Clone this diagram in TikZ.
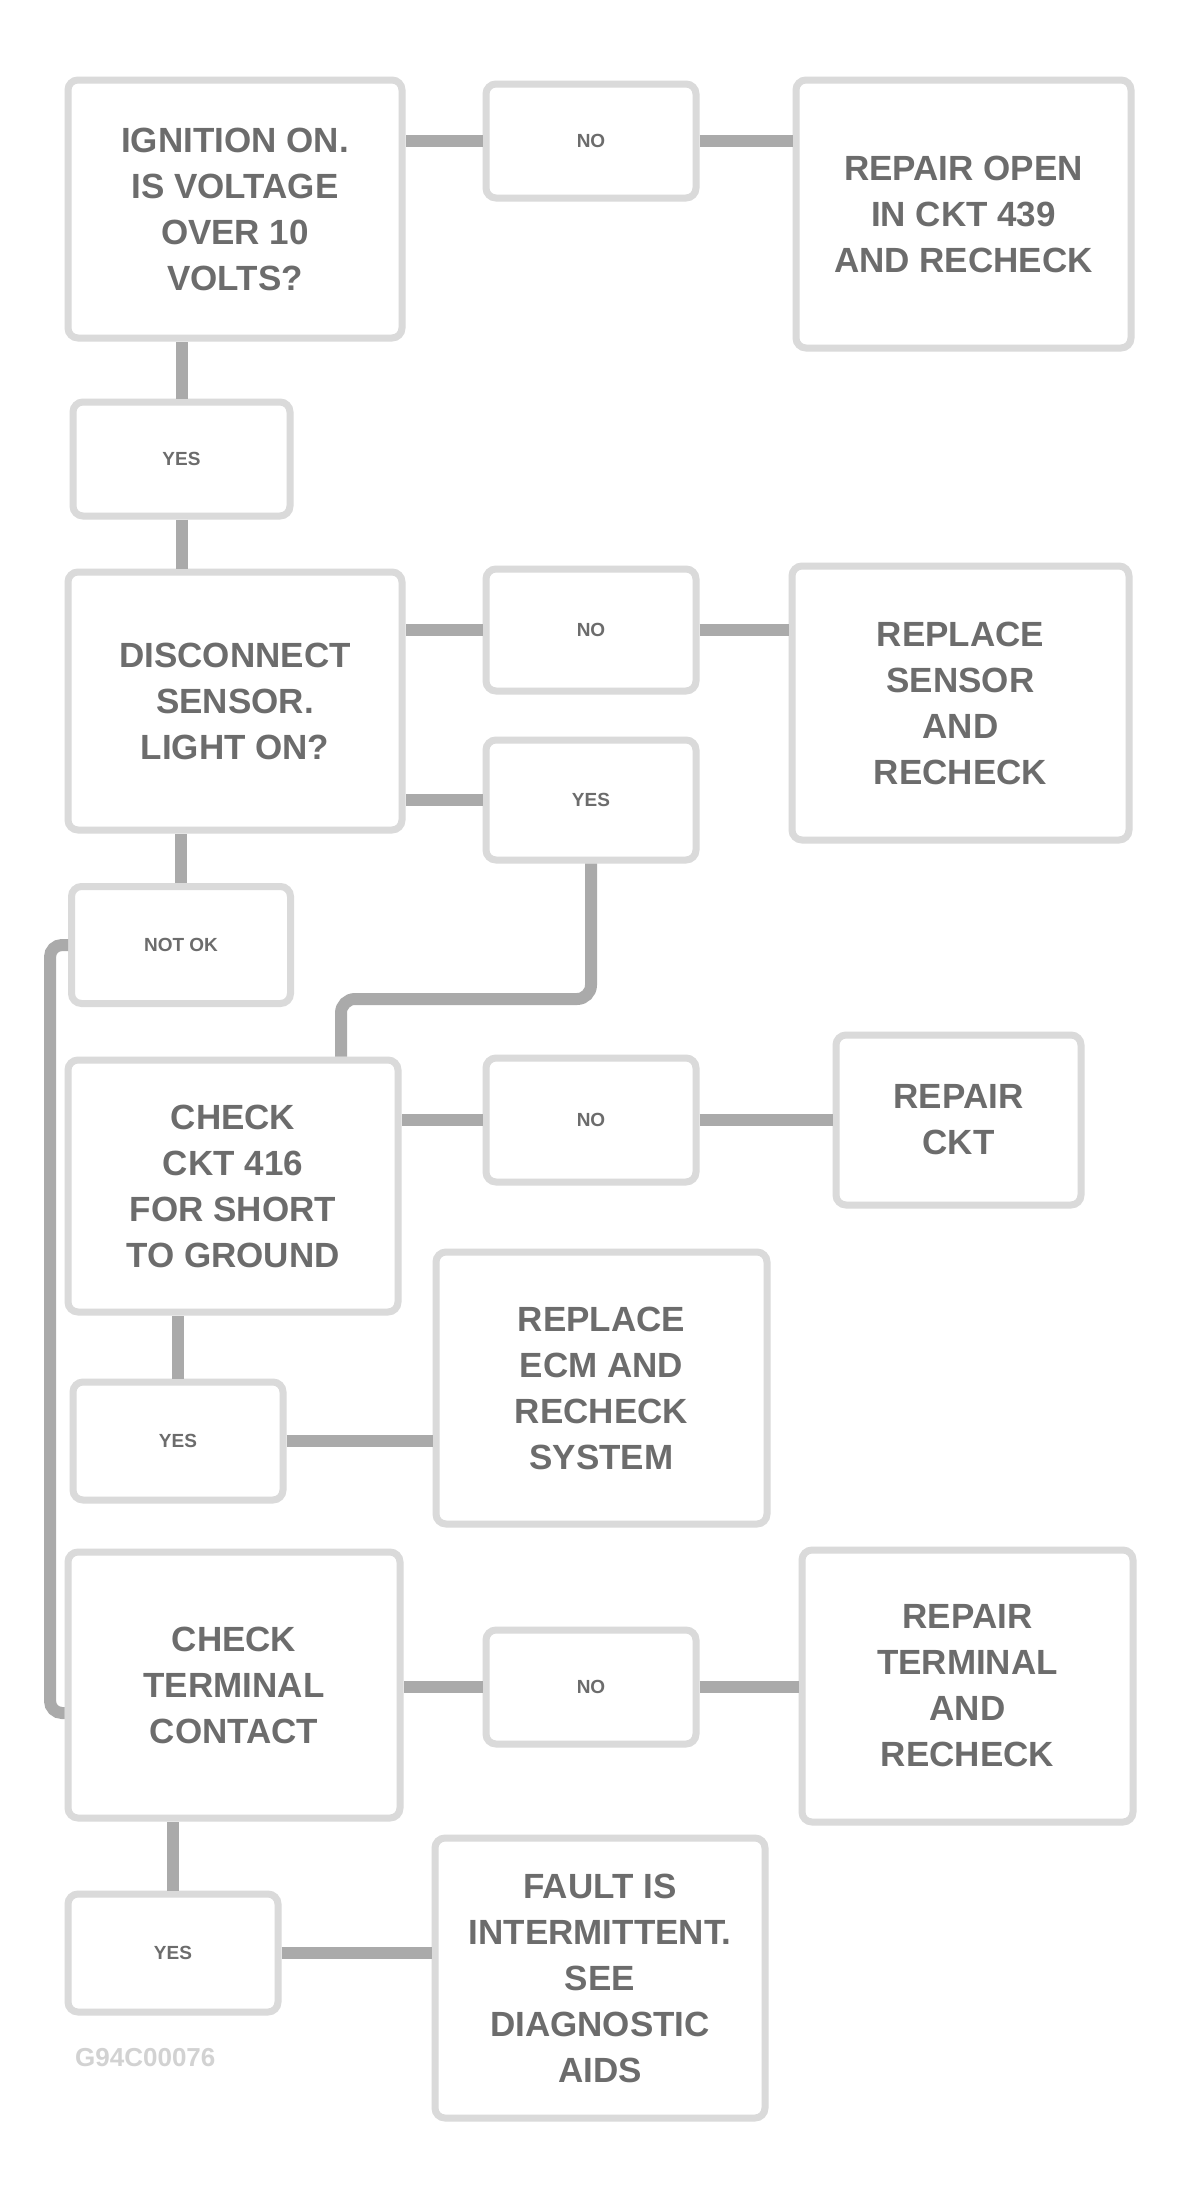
\documentclass[tikz,border=0pt]{standalone}
\usepackage{fontspec}
\setmainfont{Liberation Sans}
\definecolor{boxline}{HTML}{DADADA}
\definecolor{connline}{HTML}{AAAAAA}
\definecolor{txt}{HTML}{6C6C6C}
\definecolor{captxt}{HTML}{D2D2D2}
\begin{document}
\begin{tikzpicture}[x=1pt,y=-1pt,
  box/.style={draw=boxline, line width=7pt, rounded corners=10pt, fill=white,
    inner sep=0pt, align=center, text=txt, font=\fontsize{35}{46}\selectfont\bfseries},
  ans/.style={box, font=\fontsize{19}{23}\selectfont\bfseries},
  conn/.style={draw=connline, line width=12pt},
  caption/.style={text=captxt, font=\fontsize{26}{30}\selectfont\bfseries, inner sep=0pt}]
\useasboundingbox (0,0) rectangle (1176,2192);
\fill[white] (0,0) rectangle (1176,2192);
% nodes
\node[box, minimum width=334pt, minimum height=258pt] (A) at (235,209) {IGNITION ON.\\IS VOLTAGE\\OVER 10\\VOLTS?};
\node[ans, minimum width=210pt, minimum height=114pt] (B) at (591,141) {NO};
\node[box, minimum width=335pt, minimum height=268pt] (C) at (963.5,214) {REPAIR OPEN\\IN CKT 439\\AND RECHECK};
\node[ans, minimum width=217pt, minimum height=114pt] (D) at (181.5,459) {YES};
\node[box, minimum width=334pt, minimum height=258pt] (E) at (235,701) {DISCONNECT\\SENSOR.\\LIGHT ON?};
\node[ans, minimum width=210pt, minimum height=122pt] (F) at (591,630) {NO};
\node[box, minimum width=337pt, minimum height=274pt] (G) at (960.5,703) {REPLACE\\SENSOR\\AND\\RECHECK};
\node[ans, minimum width=210pt, minimum height=120pt] (H) at (591,800) {YES};
\node[ans, minimum width=219pt, minimum height=117pt] (I) at (181,945) {NOT OK};
\node[box, minimum width=330pt, minimum height=252pt] (J) at (233,1186) {CHECK\\CKT 416\\FOR SHORT\\TO GROUND};
\node[ans, minimum width=210pt, minimum height=124pt] (K) at (591,1120) {NO};
\node[box, minimum width=245pt, minimum height=170pt] (L) at (958.5,1120) {REPAIR\\CKT};
\node[ans, minimum width=210pt, minimum height=118pt] (M) at (178,1441) {YES};
\node[box, minimum width=331pt, minimum height=272pt] (N) at (601.5,1388) {REPLACE\\ECM AND\\RECHECK\\SYSTEM};
\node[box, minimum width=332pt, minimum height=266pt] (O) at (234,1685) {CHECK\\TERMINAL\\CONTACT};
\node[ans, minimum width=210pt, minimum height=114pt] (P) at (591,1687) {NO};
\node[box, minimum width=331pt, minimum height=272pt] (Q) at (967.5,1686) {REPAIR\\TERMINAL\\AND\\RECHECK};
\node[ans, minimum width=210pt, minimum height=118pt] (R) at (173,1953) {YES};
\node[box, minimum width=330pt, minimum height=280pt] (S) at (600,1978) {FAULT IS\\INTERMITTENT.\\SEE\\DIAGNOSTIC\\AIDS};
\node[caption, anchor=west] (cap) at (75,2058) {G94C00076};
% connectors
\draw[conn] (B.west) -- (B.west -| A.east);
\draw[conn] (B.east) -- (B.east -| C.west);
\draw[conn] (D.north) -- (D.north |- A.south);
\draw[conn] (D.south) -- (D.south |- E.north);
\draw[conn] (F.west) -- (F.west -| E.east);
\draw[conn] (F.east) -- (F.east -| G.west);
\draw[conn] (H.west) -- (H.west -| E.east);
\draw[conn] (I.north) -- (I.north |- E.south);
\coordinate (hj) at (341,999);
\draw[conn, rounded corners=14pt] (H.south) |- (hj) -- (hj |- J.north);
\draw[conn] (K.west) -- (K.west -| J.east);
\draw[conn] (K.east) -- (K.east -| L.west);
\draw[conn] (M.north) -- (M.north |- J.south);
\draw[conn] (M.east) -- (M.east -| N.west);
\coordinate (bus) at (50,1713);
\draw[conn, rounded corners=12pt] (I.west) -| (bus) -- (bus -| O.west);
\draw[conn] (P.west) -- (P.west -| O.east);
\draw[conn] (P.east) -- (P.east -| Q.west);
\draw[conn] (R.north) -- (R.north |- O.south);
\draw[conn] (R.east) -- (R.east -| S.west);
\end{tikzpicture}
\end{document}
